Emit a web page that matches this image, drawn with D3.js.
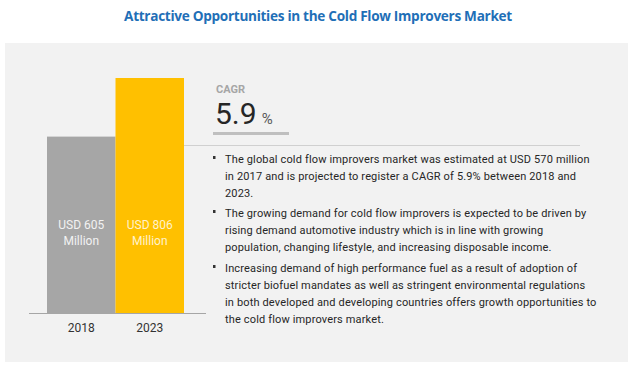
<!DOCTYPE html>
<html><head><meta charset="utf-8">
<script src="https://cdn.jsdelivr.net/npm/d3@7"></script>
<style>body{margin:0;background:#fff}svg{display:block}</style>
</head><body>
<svg id="c" width="639" height="370"></svg>
<script>
const years = ["2018", "2023"];
const values = [605, 806];
const barLabels = [["USD 605", "Million"], ["USD 806", "Million"]];
const barColors = ["#a6a6a6", "#ffc000"];
const labelColors = ["#f2f2f2", "#fff2cc"];
const title = "Attractive Opportunities in the Cold Flow Improvers Market";
const cagrLabel = "CAGR";
const cagrValue = "5.9";
const bullets = [
  ["The global cold flow improvers market was estimated at USD 570 million",
   "in 2017 and is projected to register a CAGR of 5.9% between 2018 and",
   "2023."],
  ["The growing demand for cold flow improvers is expected to be driven by",
   "rising demand automotive industry which is in line with growing",
   "population, changing lifestyle, and increasing disposable income."],
  ["Increasing demand of high performance fuel as a result of adoption of",
   "stricter biofuel mandates as well as stringent environmental regulations",
   "in both developed and developing countries offers growth opportunities to",
   "the cold flow improvers market."]
];

const svg = d3.select("#c");
svg.append("rect").attr("x",5).attr("y",43).attr("width",623).attr("height",319).attr("fill","#f2f2f2");

svg.append("text").attr("x",318).attr("y",21).attr("text-anchor","middle")
  .attr("font-family","Open Sans, sans-serif").attr("font-weight","bold").attr("font-size",13.6)
  .attr("fill","#1f6fb7").attr("letter-spacing","-0.3").text(title);

const x = d3.scaleBand().domain(years).range([47,184]).padding(0);
const y = d3.scaleLinear().domain([0,806]).range([313,78]);

svg.selectAll("rect.bar").data(values).enter().append("rect").attr("class","bar")
  .attr("x",(d,i)=>x(years[i])).attr("width",x.bandwidth())
  .attr("y",d=>y(d)).attr("height",d=>y(0)-y(d)).attr("fill",(d,i)=>barColors[i]);

svg.append("line").attr("x1",29).attr("x2",206).attr("y1",313.5).attr("y2",313.5)
  .attr("stroke","#a6a6a6").attr("stroke-width",1);

const xAxis = d3.axisBottom(x).tickSize(0).tickPadding(10);
const ax = svg.append("g").attr("transform","translate(0,313)").call(xAxis);
ax.select(".domain").remove();
ax.selectAll("text").attr("font-family","Roboto, sans-serif").attr("font-size",12).attr("fill","#333");

years.forEach((yr,i)=>{
  barLabels[i].forEach((t,j)=>{
    svg.append("text").attr("x",x(yr)+x.bandwidth()/2).attr("y",229+j*16)
      .attr("text-anchor","middle").attr("font-family","Roboto, sans-serif").attr("font-size",12)
      .attr("fill",labelColors[i]).text(t);
  });
});

svg.append("text").attr("x",216).attr("y",93).attr("font-family","Roboto, sans-serif")
  .attr("font-weight","bold").attr("font-size",11).attr("fill","#a6a6a6").text(cagrLabel);
const cg = svg.append("text").attr("x",215).attr("y",124).attr("font-family","Roboto, sans-serif").attr("fill","#262626");
cg.append("tspan").attr("font-size",30).text(cagrValue);
cg.append("tspan").attr("font-size",15).attr("dx",5).attr("fill","#595959").text("%");
svg.append("rect").attr("x",213).attr("y",132).attr("width",76).attr("height",3).attr("fill","#bfbfbf");

svg.append("line").attr("x1",184).attr("x2",580).attr("y1",145.5).attr("y2",145.5)
  .attr("stroke","#d0d0d0").attr("stroke-width",1);

const bulletStarts = [163, 217, 272];
bullets.forEach((lines,bi)=>{
  svg.append("rect").attr("x",213).attr("y",bulletStarts[bi]-7).attr("width",2.5).attr("height",3).attr("fill","#333");
  lines.forEach((t,li)=>{
    svg.append("text").attr("x",225).attr("y",bulletStarts[bi]+li*17)
      .attr("font-family","Roboto, sans-serif").attr("font-size",11).attr("letter-spacing","0.15")
      .attr("fill","#262626").text(t);
  });
});
</script>
</body></html>
